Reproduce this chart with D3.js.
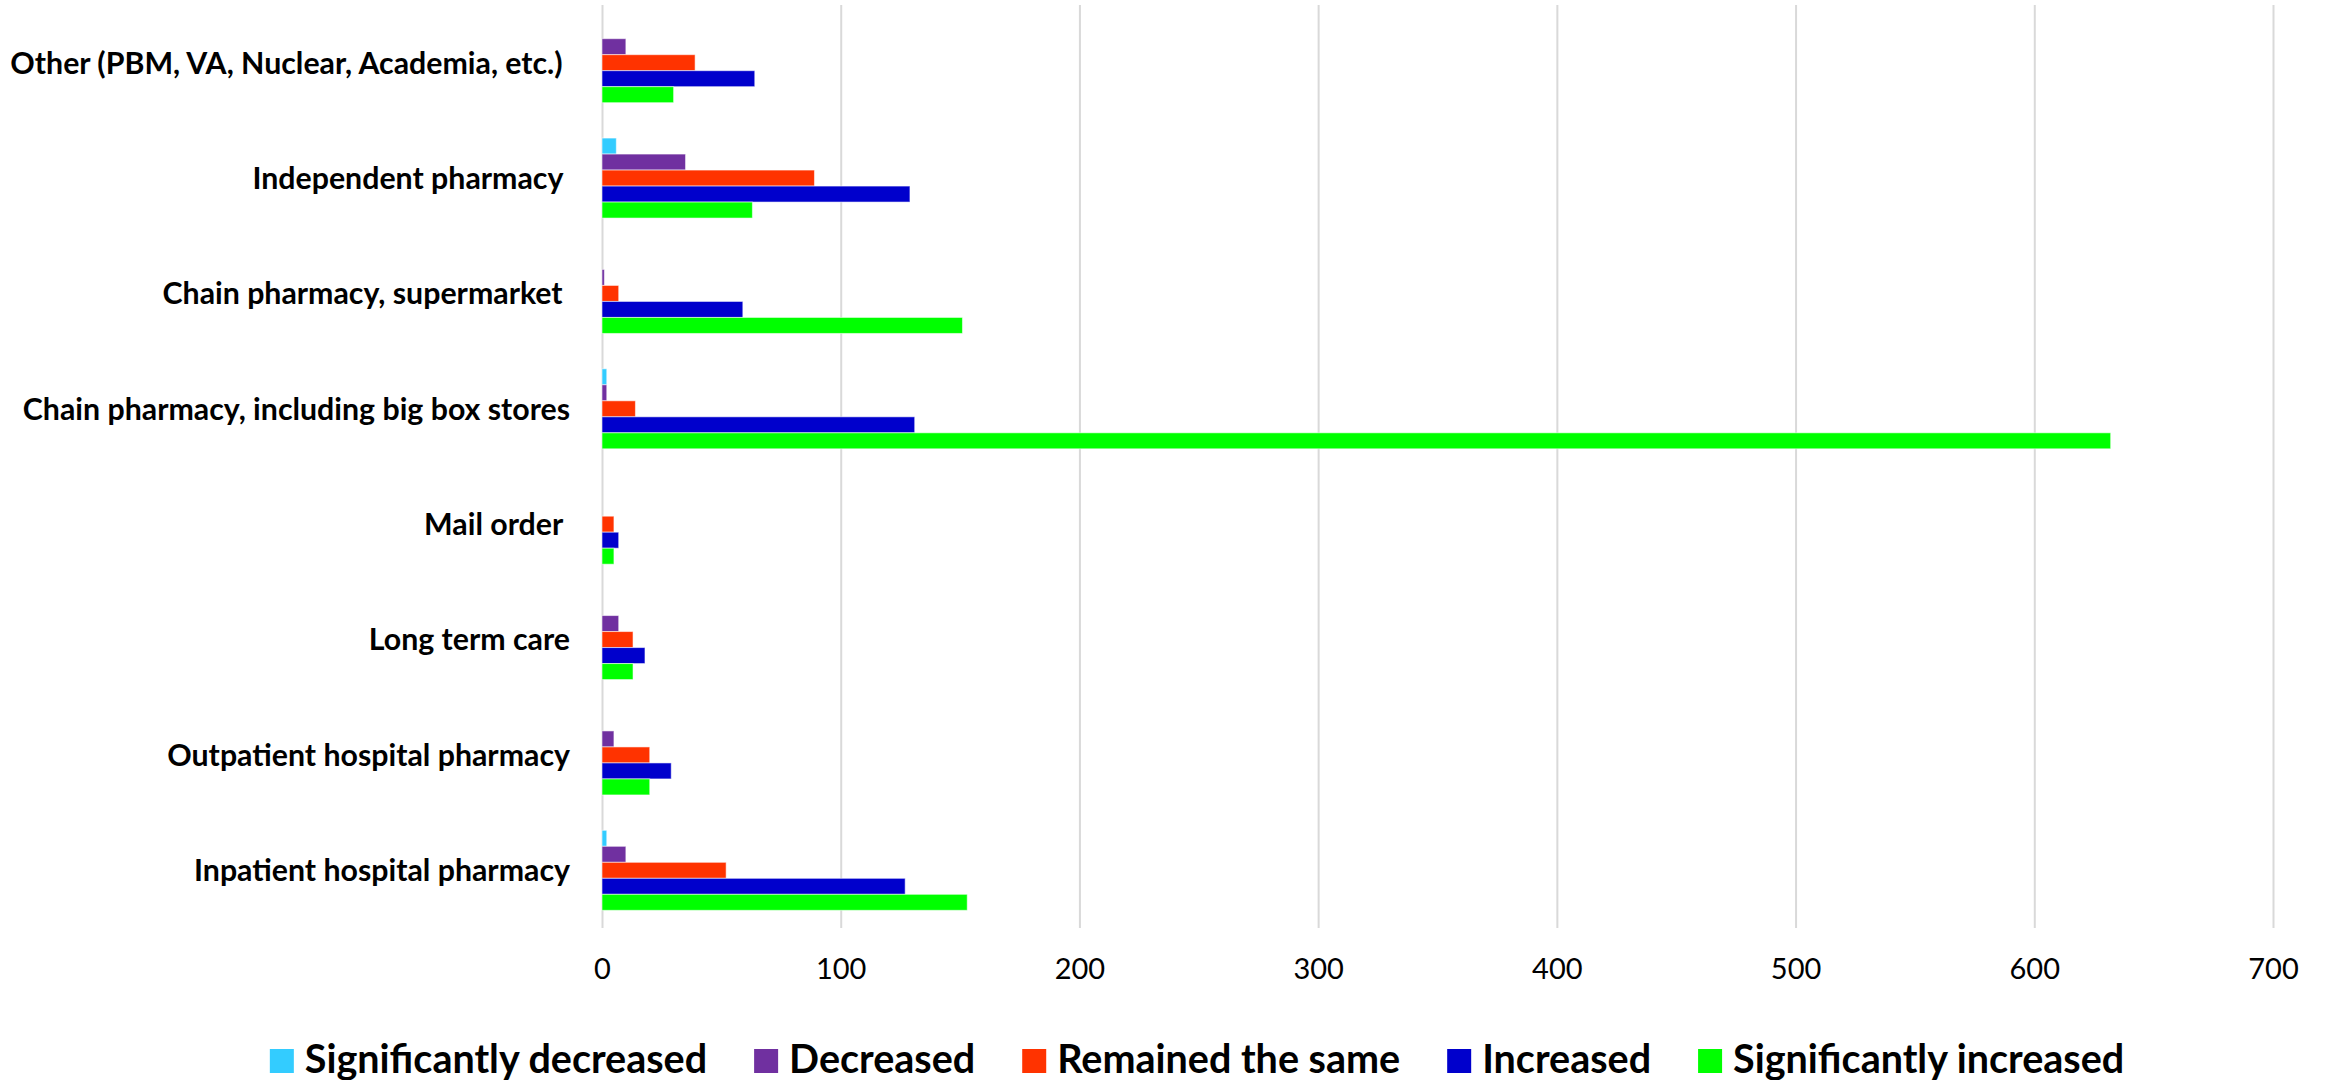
<!DOCTYPE html>
<html>
<head>
<meta charset="utf-8">
<script src="https://cdn.jsdelivr.net/npm/d3@7"></script>
<style>
  html, body { margin: 0; padding: 0; background: #ffffff; }
  svg { display: block; }
  text { white-space: pre; }
</style>
</head>
<body>
<svg id="chart" width="2325" height="1080"></svg>
<script>
// ---- DATA ----
const categories = [
  "Other (PBM, VA, Nuclear, Academia, etc.) ",
  "Independent pharmacy ",
  "Chain pharmacy, supermarket ",
  "Chain pharmacy, including big box stores",
  "Mail order ",
  "Long term care",
  "Outpatient hospital pharmacy",
  "Inpatient hospital pharmacy"
];
const seriesNames = ["Significantly decreased", "Decreased", "Remained the same", "Increased", "Significantly increased"];
const significantlyDecreased = [0, 6, 0, 2, 0, 0, 0, 2];
const decreased              = [10, 35, 1, 2, 0, 7, 5, 10];
const remainedSame           = [39, 89, 7, 14, 5, 13, 20, 52];
const increased              = [64, 129, 59, 131, 7, 18, 29, 127];
const significantlyIncreased = [30, 63, 151, 632, 5, 13, 20, 153];
const seriesColors = ["#33CCFF", "#7030A0", "#FF3300", "#0000CC", "#00FF00"];
const xTicks = [0, 100, 200, 300, 400, 500, 600, 700];

const seriesValues = [significantlyDecreased, decreased, remainedSame, increased, significantlyIncreased];

// ---- LAYOUT ----
const svg = d3.select("#chart");
const plotLeft = 602, plotRight = 2273, plotTop = 5, plotBottom = 928;
const labelFont = "Lato, 'Open Sans', sans-serif";

const x = d3.scaleLinear().domain([0, 700]).range([plotLeft, plotRight]);
const y = d3.scaleBand().domain(categories).range([plotTop, plotBottom])
  .paddingInner(0.3066).paddingOuter(0.1533);
const ySub = d3.scaleBand().domain(seriesNames).range([0, y.bandwidth()]).padding(0);

// gridlines
const xAxis = d3.axisBottom(x).tickValues(xTicks).tickSize(-(plotBottom - plotTop)).tickFormat(d3.format("d"));
const gx = svg.append("g").attr("transform", `translate(0,${plotBottom})`).call(xAxis);
gx.select(".domain").remove();
gx.selectAll(".tick line").attr("stroke", "#d9d9d9").attr("stroke-width", 2);
gx.selectAll(".tick text")
  .attr("y", 51).attr("dy", 0)
  .attr("fill", "#000")
  .style("font-family", labelFont)
  .style("font-size", "29px");

// bars
const groups = svg.append("g").selectAll("g")
  .data(categories)
  .join("g")
  .attr("transform", d => `translate(0,${y(d)})`);

groups.selectAll("rect")
  .data((c, i) => seriesNames.map((s, k) => ({ s, k, v: seriesValues[k][i] })))
  .join("rect")
  .filter(d => d.v > 0)
  .attr("x", x(0))
  .attr("y", d => ySub(d.s))
  .attr("width", d => x(d.v) - x(0))
  .attr("height", ySub.bandwidth())
  .attr("fill", d => seriesColors[d.k])
  .attr("stroke", "rgba(255,255,255,0.55)")
  .attr("stroke-width", 1);

// category labels
const yAxis = d3.axisLeft(y).tickSize(0).tickPadding(0);
const gy = svg.append("g").attr("transform", `translate(570,0)`).call(yAxis);
gy.select(".domain").remove();
gy.selectAll(".tick text")
  .attr("x", 0).attr("dy", "0.36em")
  .attr("fill", "#000")
  .style("font-family", labelFont)
  .style("font-weight", "700")
  .style("font-size", "30.3px")
  .style("white-space", "pre");

// legend
const legend = svg.append("g");
const legendY = 1073;
const sw = 24, gapSwText = 11, gapItems = 47;
const items = legend.selectAll("g").data(seriesNames).join("g");
items.append("rect")
  .attr("width", sw).attr("height", sw)
  .attr("y", legendY - sw)
  .attr("fill", (d, i) => seriesColors[i]);
items.append("text")
  .attr("x", sw + gapSwText)
  .attr("y", legendY)
  .attr("fill", "#000")
  .style("font-family", labelFont)
  .style("font-weight", "700")
  .style("font-size", "39.5px")
  .text(d => d);
const widths = [];
items.each(function () {
  const t = d3.select(this).select("text").node().getComputedTextLength();
  widths.push(sw + gapSwText + t);
});
const totalW = d3.sum(widths) + gapItems * (widths.length - 1);
let startX = 1197 - totalW / 2;
items.attr("transform", (d, i) => {
  const tx = startX;
  startX += widths[i] + gapItems;
  return `translate(${tx},0)`;
});
</script>
</body>
</html>
